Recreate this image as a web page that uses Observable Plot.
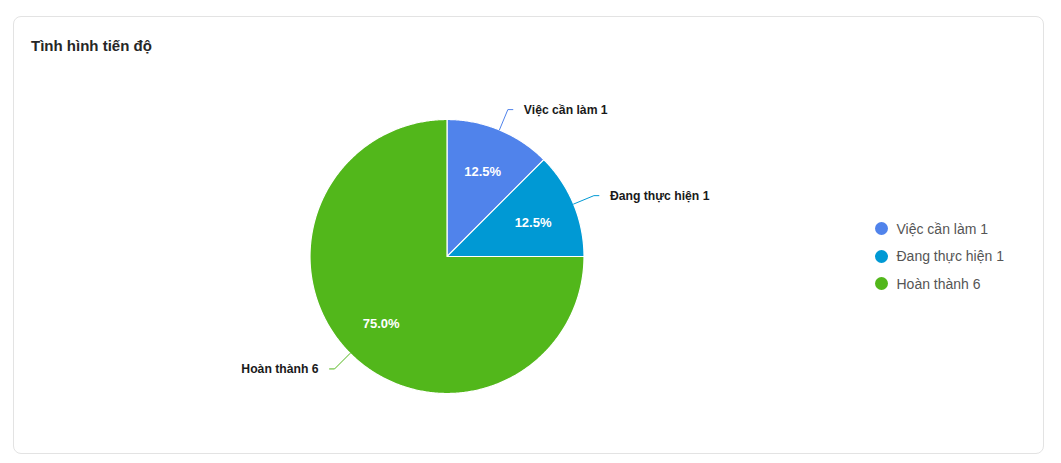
<!DOCTYPE html>
<html><head><meta charset="utf-8">
<script src="https://cdn.jsdelivr.net/npm/d3@7"></script>
<script src="https://cdn.jsdelivr.net/npm/@observablehq/plot@0.6"></script>
<style>
body{margin:0;background:#fff;font-family:"Liberation Sans",Arial,sans-serif;}
#card{position:absolute;left:13px;top:16px;width:1029px;height:436px;border:1px solid #e3e3e3;border-radius:8px;}
#title{position:absolute;left:17px;top:20px;font-size:15px;font-weight:bold;color:#262626;}
#chart{position:absolute;left:0;top:0;}
#legend{position:absolute;left:875px;top:215px;}
.item{display:flex;align-items:center;height:27.5px;font-size:14px;color:#555;}
.sw{width:13px;height:13px;border-radius:50%;margin-right:8.5px;}
</style></head><body>
<div id="card"><div id="title">Tình hình tiến độ</div></div>
<div id="chart"></div>
<div id="legend"></div>
<script>
const categories = ["Việc cần làm 1", "Đang thực hiện 1", "Hoàn thành 6"];
const values = [1, 1, 6];
const colors = ["#5083EB", "#0099D4", "#52B71B"];

const total = d3.sum(values);
const arcs = d3.pie().sort(null).value(d => d)(values);

const cx = 446.5, cy = 256, R = 137;

// slice polygons
const slicePts = [];
arcs.forEach((a, i) => {
  const name = categories[i];
  slicePts.push({name, x: 0, y: 0});
  const n = Math.max(2, Math.ceil((a.endAngle - a.startAngle) / (Math.PI / 360)));
  for (let k = 0; k <= n; k++) {
    const t = a.startAngle + (a.endAngle - a.startAngle) * k / n;
    slicePts.push({name, x: Math.sin(t), y: Math.cos(t)});
  }
  slicePts.push({name, x: 0, y: 0});
});

// percentage labels
const pctLabels = arcs.map((a, i) => {
  const m = (a.startAngle + a.endAngle) / 2;
  return {name: categories[i], x: 0.68 * Math.sin(m), y: 0.68 * Math.cos(m),
          text: (values[i] / total * 100).toFixed(1) + "%"};
});

// leader lines + outer labels
const leaderPts = [];
const outer = [];
arcs.forEach((a, i) => {
  const m = (a.startAngle + a.endAngle) / 2;
  const s = Math.sin(m), c = Math.cos(m);
  const side = s >= 0 ? 1 : -1;
  const r2 = 1 + 22 / R;
  const ex = r2 * s, ey = r2 * c;
  const hx = ex + side * 5 / R;
  leaderPts.push({name: categories[i], x: s, y: c});
  leaderPts.push({name: categories[i], x: ex, y: ey});
  leaderPts.push({name: categories[i], x: hx, y: ey});
  outer.push({name: categories[i], x: hx, y: ey, side});
});

const plot = Plot.plot({
  width: 1061,
  height: 463,
  margin: 0,
  x: {domain: [-1, 1], range: [cx - R, cx + R], axis: null},
  y: {domain: [-1, 1], range: [cy + R, cy - R], axis: null},
  color: {domain: categories, range: colors},
  style: {fontFamily: '"Liberation Sans", Arial, sans-serif', background: "transparent"},
  marks: [
    Plot.line(slicePts, {x: "x", y: "y", z: "name", fill: "name", stroke: "white", strokeWidth: 1.2, strokeLinejoin: "round"}),
    Plot.line(leaderPts, {x: "x", y: "y", z: "name", stroke: "name", strokeWidth: 1}),
    Plot.text(pctLabels, {x: "x", y: "y", text: "text", dy: 1.5, fill: "white", fontWeight: "bold", fontSize: 13}),
    Plot.text(outer.filter(d => d.side > 0), {x: "x", y: "y", text: "name", dx: 11, textAnchor: "start", fill: "#1a1a1a", fontWeight: "bold", fontSize: 12.2}),
    Plot.text(outer.filter(d => d.side < 0), {x: "x", y: "y", text: "name", dx: -11, textAnchor: "end", fill: "#1a1a1a", fontWeight: "bold", fontSize: 12.2})
  ]
});
document.getElementById("chart").appendChild(plot);

const legend = d3.select("#legend");
categories.forEach((c, i) => {
  const it = legend.append("div").attr("class", "item");
  it.append("div").attr("class", "sw").style("background", colors[i]);
  it.append("span").text(c);
});
</script>
</body></html>
